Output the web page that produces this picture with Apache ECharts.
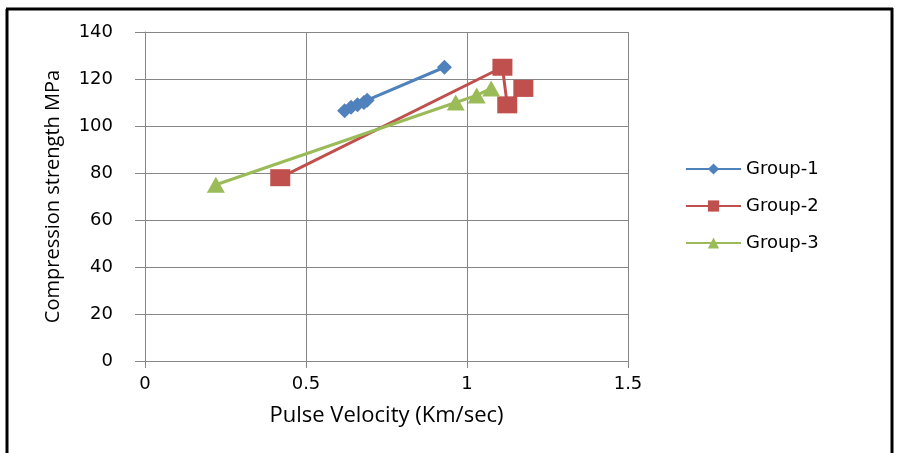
<!DOCTYPE html>
<html>
<head>
<meta charset="utf-8">
<script src="https://cdn.jsdelivr.net/npm/echarts@6/dist/echarts.min.js"></script>
<style>
  html, body { margin: 0; padding: 0; background: #fff; }
  #chart { width: 898px; height: 453px; }
</style>
</head>
<body>
<div id="chart"></div>
<script>
// data: [pulse velocity, compression strength]
const group1 = [[0.62, 106.5], [0.64, 108], [0.66, 109], [0.68, 110], [0.69, 111], [0.93, 125]];
const group2 = [[0.42, 78], [1.11, 125], [1.125, 109], [1.175, 116]];
const group3 = [[0.22, 75], [0.965, 110], [1.03, 113], [1.075, 116]];
const seriesNames = ['Group-1', 'Group-2', 'Group-3'];
const xTicks = [0, 0.5, 1, 1.5];
const yTicks = [0, 20, 40, 60, 80, 100, 120, 140];

const chart = echarts.init(document.getElementById('chart'));

const gridColor = '#868686';
const tickFont = { fontFamily: 'DejaVu Sans', fontSize: 18, color: '#000' };

function mkSeries(name, data, color, symbol, size) {
  return {
    name: name,
    type: 'line',
    data: data,
    symbol: symbol,
    symbolSize: size,
    showSymbol: true,
    lineStyle: { color: color, width: 3 },
    itemStyle: { color: color },
    emphasis: { disabled: true },
    animation: false
  };
}

const option = {
  backgroundColor: '#fff',
  grid: { left: 145, right: 270, top: 32, bottom: 92 },
  legend: {
    orient: 'vertical',
    left: 680,
    top: 155,
    itemWidth: 55,
    itemHeight: 14,
    itemGap: 19,
    textStyle: tickFont,
    data: seriesNames
  },
  xAxis: {
    type: 'value',
    min: xTicks[0],
    max: xTicks[xTicks.length - 1],
    interval: 0.5,
    name: 'Pulse Velocity (Km/sec)',
    nameLocation: 'middle',
    nameGap: 44,
    nameTextStyle: { fontFamily: 'Open Sans', fontSize: 22, color: '#000' },
    axisLine: { lineStyle: { color: gridColor } },
    axisTick: { show: true, inside: false, length: 7, lineStyle: { color: gridColor } },
    axisLabel: Object.assign({ margin: 14 }, tickFont),
    splitLine: { show: true, lineStyle: { color: gridColor, width: 1 } }
  },
  yAxis: {
    type: 'value',
    min: yTicks[0],
    max: yTicks[yTicks.length - 1],
    interval: 20,
    name: 'Compression strength MPa',
    nameLocation: 'middle',
    nameRotate: 90,
    nameGap: 82,
    nameTextStyle: { fontFamily: 'Open Sans', fontSize: 20, color: '#000' },
    axisLine: { show: true, lineStyle: { color: gridColor } },
    axisTick: { show: true, inside: false, length: 10, lineStyle: { color: gridColor } },
    axisLabel: Object.assign({ margin: 32 }, tickFont),
    splitLine: { show: true, lineStyle: { color: gridColor, width: 1 } }
  },
  series: [
    mkSeries(seriesNames[0], group1, '#4F81BD', 'diamond', 15),
    mkSeries(seriesNames[1], group2, '#C0504D', 'rect', [20, 17]),
    mkSeries(seriesNames[2], group3, '#9BBB59', 'triangle', [18, 16])
  ],
  graphic: [
    // outer chart frame (left, top, right visible)
    { type: 'line', shape: { x1: 7, y1: 9, x2: 7, y2: 453 }, style: { stroke: '#000', lineWidth: 3 } },
    { type: 'line', shape: { x1: 6, y1: 9, x2: 893, y2: 9 }, style: { stroke: '#000', lineWidth: 3 } },
    { type: 'line', shape: { x1: 892, y1: 8, x2: 892, y2: 453 }, style: { stroke: '#000', lineWidth: 3 } }
  ]
};

chart.setOption(option);
</script>
</body>
</html>
